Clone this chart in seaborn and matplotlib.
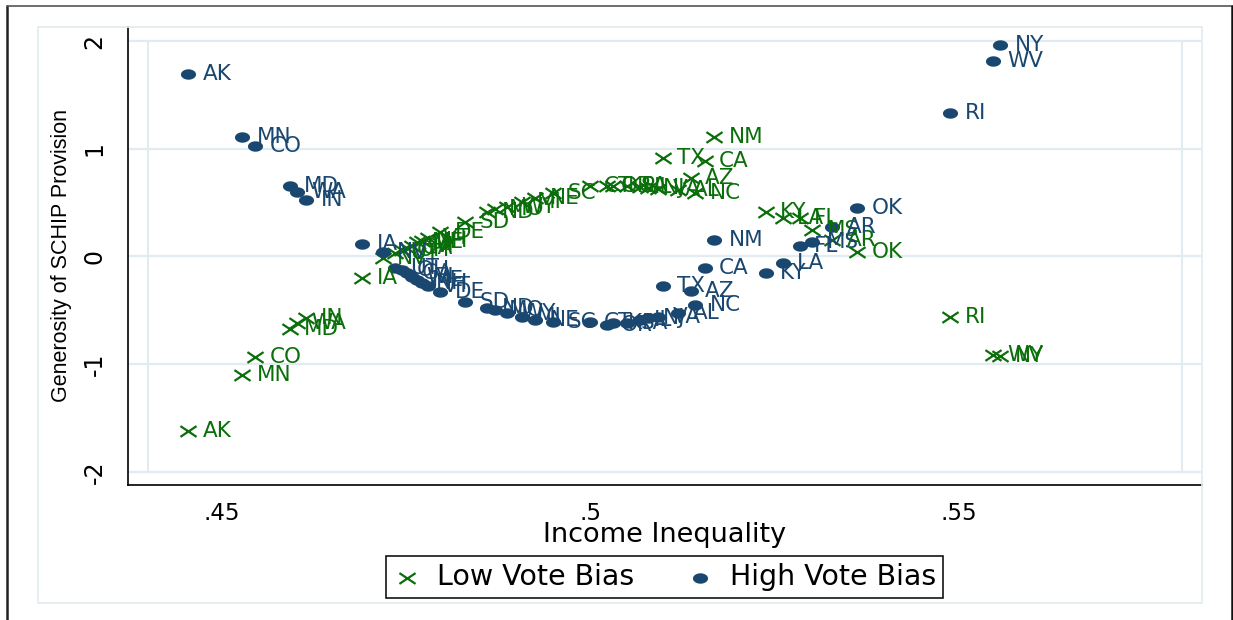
import numpy as np
import pandas as pd
import matplotlib
matplotlib.use("Agg")
import matplotlib.pyplot as plt
from matplotlib.path import Path
from matplotlib.lines import Line2D
from matplotlib.patches import Rectangle
import seaborn as sns

# ---- data -------------------------------------------------------------
states = ["AK", "MN", "CO", "MD", "WA", "IN", "IA",
          "NV", "UT", "OH", "GA", "WI", "ME", "NH", "VT",
          "DE", "SD", "ND", "MO", "WY", "MI", "NE", "SC", "CT",
          "OR", "KS", "PA", "IL", "NJ", "VA",
          "TX", "AL", "AZ", "NC", "CA", "NM",
          "KY", "LA", "FL", "MS", "AR", "OK",
          "RI", "WV", "NY"]

inequality = [0.4454, 0.4527, 0.4545, 0.4592, 0.4602, 0.4614, 0.4690,
              0.4718, 0.4735, 0.4744, 0.4751, 0.4758, 0.4765, 0.4771, 0.4780,
              0.4796, 0.4830, 0.4860, 0.4870, 0.4887, 0.4907, 0.4925, 0.4949, 0.4999,
              0.5022, 0.5031, 0.5050, 0.5067, 0.5078, 0.5092,
              0.5098, 0.5119, 0.5136, 0.5142, 0.5155, 0.5168,
              0.5238, 0.5261, 0.5284, 0.5301, 0.5328, 0.5362,
              0.5488, 0.5546, 0.5556]

generosity_low_bias = [-1.62, -1.10, -0.93, -0.67, -0.62, -0.57, -0.20,
                       -0.01, 0.03, 0.06, 0.08, 0.10, 0.13, 0.14, 0.17,
                       0.23, 0.32, 0.41, 0.44, 0.46, 0.51, 0.54, 0.59, 0.65,
                       0.65, 0.65, 0.65, 0.645, 0.64, 0.63,
                       0.91, 0.62, 0.73, 0.59, 0.89, 1.11,
                       0.41, 0.36, 0.36, 0.25, 0.15, 0.04,
                       -0.56, -0.91, -0.92]

generosity_high_bias = [1.69, 1.11, 1.03, 0.65, 0.60, 0.52, 0.12,
                        0.04, -0.11, -0.13, -0.15, -0.19, -0.22, -0.25, -0.27,
                        -0.33, -0.42, -0.48, -0.50, -0.52, -0.56, -0.59, -0.61, -0.61,
                        -0.64, -0.62, -0.62, -0.59, -0.57, -0.56,
                        -0.27, -0.52, -0.32, -0.45, -0.11, 0.15,
                        -0.15, -0.06, 0.10, 0.13, 0.27, 0.45,
                        1.33, 1.81, 1.96]

series_names = ["Low Vote Bias", "High Vote Bias"]
y_ticks = [-2, -1, 0, 1, 2]
y_tick_labels = ["-2", "-1", "0", "1", "2"]
x_ticks = [0.45, 0.50, 0.55]
x_tick_labels = [".45", ".5", ".55"]

# ---- style ------------------------------------------------------------
NAVY = "#1a476f"
GREEN = "#0a6e0a"
LIGHT = "#e2ebef"

sns.set_style("white")
plt.rcParams["font.family"] = ["DejaVu Sans"]
plt.rcParams["text.color"] = "black"
plt.rcParams["axes.labelcolor"] = "black"
plt.rcParams["xtick.color"] = "black"
plt.rcParams["ytick.color"] = "black"

W, H = 1233, 620
fig = plt.figure(figsize=(W / 100, H / 100), dpi=100)
fig.patch.set_facecolor("white")


def fx(px):
    return px / W


def fy(py):
    return 1 - py / H


# outer frame (left, top, right) and light graph-region outline
fig.add_artist(Line2D([fx(7), fx(7)], [fy(6), fy(620)], color="#222222", lw=1.8))
fig.add_artist(Line2D([fx(7), fx(1232)], [fy(6), fy(6)], color="#555555", lw=1.2))
fig.add_artist(Line2D([fx(1232), fx(1232)], [fy(6), fy(620)], color="#111111", lw=1.8))
fig.add_artist(Rectangle((fx(38), fy(603)), fx(1202) - fx(38), fy(27) - fy(603),
                         fill=False, edgecolor=LIGHT, lw=1.2))

ax = fig.add_axes([fx(128), fy(485), fx(1202) - fx(128), fy(27) - fy(485)])
ax.set_xlim(0.43725, 0.5830)
ax.set_ylim(-2.121, 2.130)

# plot-region side lines
for xa in [(148 - 128) / 1074, (1182 - 128) / 1074]:
    ax.add_line(Line2D([xa, xa], [(485 - 472) / 458, (485 - 41) / 458],
                       transform=ax.transAxes, color=LIGHT, lw=1.5, zorder=0))

ax.yaxis.grid(True, color=LIGHT, lw=1.6)
ax.xaxis.grid(False)
ax.set_axisbelow(True)

# horizontally stretched marker shapes
t = np.linspace(0, 2 * np.pi, 61)
ellipse = Path(np.column_stack([1.45 * np.cos(t), np.sin(t)]), closed=True)
cross = Path([(-1.5, -1), (1.5, 1), (-1.5, 1), (1.5, -1)],
             [Path.MOVETO, Path.LINETO, Path.MOVETO, Path.LINETO])

df = pd.DataFrame({
    "state": states * 2,
    "inequality": inequality * 2,
    "generosity": generosity_low_bias + generosity_high_bias,
    "group": [series_names[0]] * len(states) + [series_names[1]] * len(states),
})

low = df[df["group"] == series_names[0]]
high = df[df["group"] == series_names[1]]

sns.scatterplot(data=low, x="inequality", y="generosity", marker=cross, s=135,
                color=GREEN, edgecolor=GREEN, linewidth=1.6, ax=ax,
                label=series_names[0], zorder=3)
sns.scatterplot(data=high, x="inequality", y="generosity", marker=ellipse, s=118,
                color=NAVY, edgecolor=NAVY, linewidth=0, ax=ax,
                label=series_names[1], zorder=3)

for sub, col in [(low, GREEN), (high, NAVY)]:
    for st, xv, yv in zip(sub["state"], sub["inequality"], sub["generosity"]):
        ax.annotate(st, (xv, yv), xytext=(10.5, 0), textcoords="offset points",
                    ha="left", va="center", color=col, fontsize=15.5, zorder=4)

# axes
for s in ["top", "right"]:
    ax.spines[s].set_visible(False)
for s in ["left", "bottom"]:
    ax.spines[s].set_color("black")
    ax.spines[s].set_linewidth(1.2)

ax.set_yticks(y_ticks)
ax.set_yticklabels(y_tick_labels)
ax.set_xticks(x_ticks)
ax.set_xticklabels(x_tick_labels)
ax.tick_params(axis="y", length=9.5, width=1.1, pad=6, labelsize=17,
               labelrotation=90, colors="black")
ax.tick_params(axis="x", length=7, width=1.1, pad=5, labelsize=16.5, colors="black")
for lbl in ax.get_yticklabels():
    lbl.set_va("center")

ax.set_xlabel("Income Inequality", fontsize=19.5)
ax.xaxis.set_label_coords(0.5, (485 - 535) / 458)
ax.xaxis.label.set_va("center")
ax.set_ylabel("Generosity of SCHIP Provision", fontsize=15.5,
              family=["Liberation Sans", "DejaVu Sans"])
ax.yaxis.set_label_coords((62 - 128) / 1074, 0.502)
ax.yaxis.label.set_va("center")

leg = ax.legend(loc="center", bbox_to_anchor=(fx(664.5), fy(577)),
                bbox_transform=fig.transFigure, ncol=2, frameon=True,
                fancybox=False, edgecolor="black", framealpha=1, fontsize=20.5,
                handlelength=1.0, handletextpad=0.55, columnspacing=1.8,
                borderpad=0.25, borderaxespad=0)
leg.get_frame().set_linewidth(1.1)

fig.savefig("out.png", dpi=100)
